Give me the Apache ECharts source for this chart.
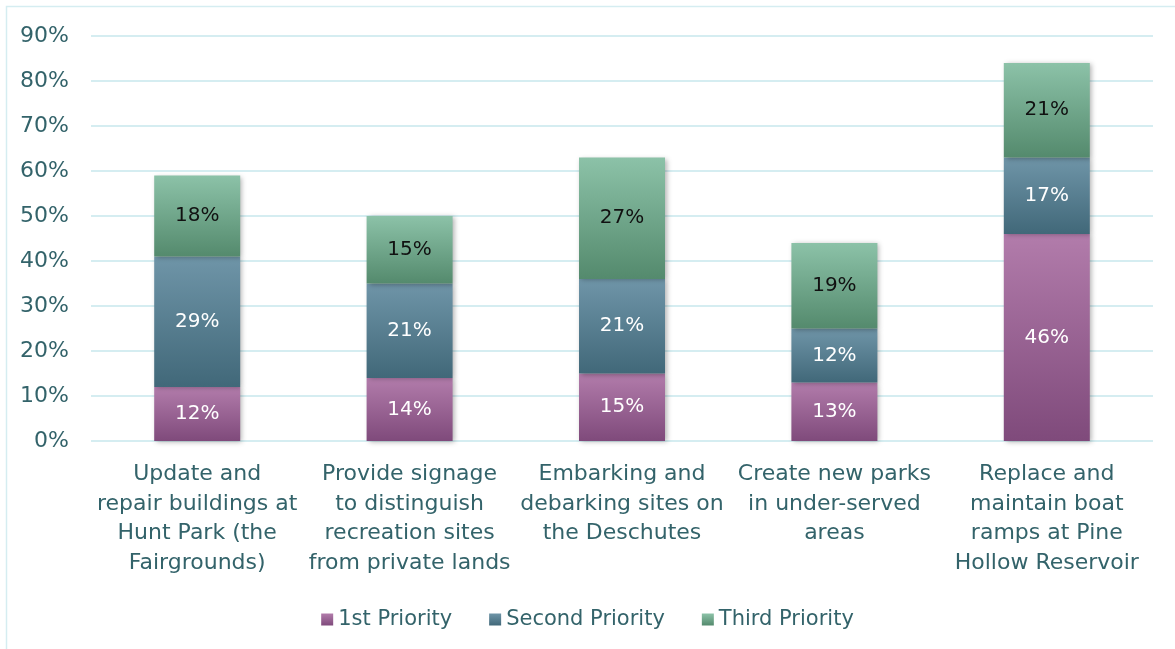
<!DOCTYPE html>
<html><head><meta charset="utf-8">
<script src="https://cdn.jsdelivr.net/npm/echarts@6/dist/echarts.min.js"></script>
<style>html,body{margin:0;padding:0;background:#fff}#c{width:1175px;height:649px}</style>
</head><body><div id="c"></div>
<script>
const categories = [
  'Update and\nrepair buildings at\nHunt Park (the\nFairgrounds)',
  'Provide signage\nto distinguish\nrecreation sites\nfrom private lands',
  'Embarking and\ndebarking sites on\nthe Deschutes',
  'Create new parks\nin under-served\nareas',
  'Replace and\nmaintain boat\nramps at Pine\nHollow Reservoir'
];
const first = [12, 14, 15, 13, 46];
const second = [29, 21, 21, 12, 17];
const third = [18, 15, 27, 19, 21];
const yTicks = [0, 10, 20, 30, 40, 50, 60, 70, 80, 90];

const FONT = '"DejaVu Sans"';
const TXT = '#33636a';
function grad(top, bottom) {
  return new echarts.graphic.LinearGradient(0, 0, 0, 1, [{offset: 0, color: top}, {offset: 1, color: bottom}]);
}
function mk(name, data, top, bottom, labelColor) {
  return {
    name, type: 'bar', stack: 's', data, barWidth: 86,
    itemStyle: {color: grad(top, bottom), shadowBlur: 5, shadowOffsetX: 2, shadowOffsetY: 1, shadowColor: 'rgba(0,0,0,0.3)'},
    label: {show: true, position: 'inside', formatter: '{c}%', color: labelColor, fontSize: 20, fontFamily: FONT}
  };
}
const chart = echarts.init(document.getElementById('c'));
chart.setOption({
  animation: false,
  graphic: [{type: 'rect', shape: {x: 6.5, y: 6.5, width: 1180, height: 660}, style: {fill: 'none', stroke: '#d5edf1', lineWidth: 1.5}, silent: true}],
  grid: {left: 91, right: 22, top: 36, bottom: 208},
  legend: {
    bottom: 14, left: 'center', itemWidth: 12, itemHeight: 12, itemGap: 37,
    icon: 'rect',
    textStyle: {color: TXT, fontSize: 21, fontFamily: FONT}
  },
  xAxis: {
    type: 'category', data: categories,
    axisLine: {show: false}, axisTick: {show: false},
    axisLabel: {color: TXT, fontSize: 22, fontFamily: FONT, lineHeight: 29.5, margin: 19, interval: 0}
  },
  yAxis: {
    type: 'value', min: yTicks[0], max: yTicks[yTicks.length - 1], interval: 10,
    axisLine: {show: false}, axisTick: {show: false},
    splitLine: {lineStyle: {color: '#d5edf1', width: 2}},
    axisLabel: {color: TXT, fontSize: 22, fontFamily: FONT, formatter: '{value}%', margin: 22}
  },
  series: [
    mk('1st Priority', first, '#b27cab', '#7f4a7b', '#ffffff'),
    mk('Second Priority', second, '#6f95a8', '#416879', '#ffffff'),
    mk('Third Priority', third, '#8cc2a8', '#548a6d', '#111111')
  ]
});
</script></body></html>
